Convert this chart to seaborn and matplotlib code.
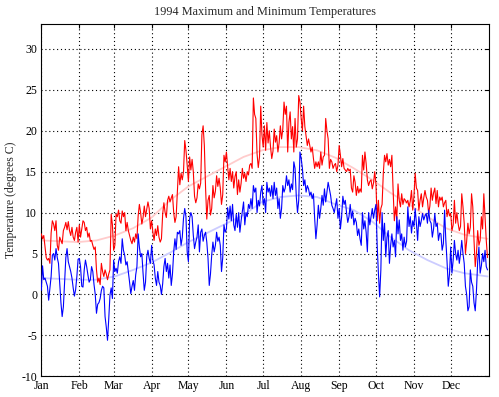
import numpy as np
import pandas as pd
import matplotlib
matplotlib.use('Agg')
import matplotlib.pyplot as plt
import seaborn as sns

# daily maximum temperatures, 1994, read month by month
max_jan = [7.4, 6.8, 7.2, 5.8, 4.5, 4.2, 4.4, 3.8, 7.5, 9.0, 8.6, 7.8, 9.0, 6.0, 5.4, 7.0, 6.6, 6.2, 7.8, 8.2,
           8.8, 7.9, 8.9, 7.8, 7.2, 8.2, 7.0, 6.6, 7.6, 8.2, 6.4]
max_feb = [8.5, 7.0, 8.0, 9.0, 8.8, 7.8, 8.2, 7.0, 7.5, 6.5, 6.6, 6.0, 5.5, 5.8, 3.0, 1.5, 2.0, 1.2, 3.8, 2.8,
           2.2, 3.0, 2.5, 1.8, 2.5, 3.0, 9.8, 8.5]
max_mar = [5.4, 6.0, 9.8, 9.5, 10.3, 9.0, 8.7, 10.2, 9.5, 10.0, 7.8, 8.8, 7.8, 7.2, 6.6, 6.2, 7.0, 6.4, 7.4, 6.8,
           9.6, 11.0, 10.0, 8.6, 9.4, 10.8, 9.5, 10.4, 11.3, 10.5, 8.0]
max_apr = [9.0, 7.6, 6.6, 8.0, 7.2, 8.4, 7.0, 6.4, 6.8, 9.8, 11.2, 10.0, 9.4, 11.5, 12.0, 11.3, 11.8, 12.2, 10.0, 8.8,
           9.5, 12.5, 15.6, 13.4, 14.8, 14.0, 15.0, 18.8, 17.6, 15.8]
max_may = [13.8, 16.8, 15.2, 16.5, 15.0, 12.0, 11.2, 11.8, 13.5, 12.9, 13.6, 19.5, 20.6, 18.2, 13.0, 9.2, 11.5, 12.1,
           9.7, 10.5, 13.3, 11.8, 12.6, 14.5, 13.2, 14.2, 13.0, 11.0, 12.2, 17.0, 16.2]
max_jun = [17.4, 15.6, 14.0, 15.4, 13.8, 15.0, 13.0, 14.4, 15.0, 12.2, 14.0, 12.5, 13.6, 15.4, 14.2, 14.8, 13.8, 15.0,
           14.6, 15.8, 16.0, 15.4, 24.0, 22.0, 21.5, 17.2, 15.5, 16.8, 23.0, 19.5]
max_jul = [18.0, 20.6, 17.6, 21.0, 18.5, 20.0, 18.0, 16.6, 17.5, 20.2, 18.6, 19.4, 17.4, 18.5, 20.6, 19.0, 20.2, 23.5,
           22.0, 23.0, 17.4, 21.0, 22.3, 19.0, 20.5, 17.4, 21.5, 18.0, 19.0, 24.3, 23.5]
max_aug = [21.5, 20.0, 23.0, 20.5, 19.4, 18.2, 19.0, 18.2, 17.4, 18.0, 16.6, 15.4, 16.2, 15.6, 16.2, 15.4, 17.4, 15.8,
           16.8, 17.0, 21.5, 20.0, 19.0, 15.4, 16.5, 16.2, 15.4, 15.8, 16.0, 15.0, 15.8]
max_sep = [18.2, 17.0, 15.6, 16.6, 15.4, 15.2, 15.0, 15.4, 15.1, 15.3, 13.0, 12.5, 14.5, 13.7, 12.1, 13.2, 12.4, 12.9,
           12.5, 17.0, 15.2, 17.4, 16.0, 14.0, 13.3, 13.8, 14.0, 12.9, 13.6, 15.0]
max_oct = [13.5, 9.0, 11.5, 8.7, 10.5, 11.0, 14.8, 17.0, 16.2, 17.2, 15.8, 16.5, 15.6, 17.0, 12.7, 9.0, 10.7, 9.2,
           13.5, 11.5, 10.7, 12.3, 11.0, 11.7, 11.5, 11.2, 11.5, 10.7, 11.4, 12.7, 10.3]
max_nov = [12.0, 14.8, 13.0, 12.7, 10.3, 11.5, 12.3, 10.7, 11.8, 12.7, 11.9, 11.5, 9.9, 10.8, 13.0, 11.5, 12.4, 13.0,
           11.1, 12.7, 10.7, 11.9, 11.5, 11.9, 10.7, 11.2, 11.5, 9.5, 10.4, 9.6]
max_dec = [9.9, 7.8, 8.5, 11.5, 8.7, 10.0, 8.7, 7.8, 8.3, 12.3, 10.7, 8.7, 5.0, 6.5, 8.7, 7.4, 8.2, 12.3, 10.7, 6.6,
           3.4, 5.0, 7.8, 6.0, 6.6, 9.5, 8.0, 12.3, 9.5, 6.6, 4.5]

# daily minimum temperatures
min_jan = [0.5, 3.5, 1.8, 2.0, 1.5, 1.0, -0.7, 0.8, 2.2, 4.8, 5.0, 4.2, 5.6, 4.5, 3.8, 1.5, -1.0, -2.7, -1.5, 1.5,
           4.5, 5.6, 4.0, 3.4, 2.8, 2.0, 0.8, -0.2, 0.6, 2.2, 4.3]
min_feb = [4.4, 3.4, 1.0, 0.9, 3.0, 4.2, 3.4, 2.4, 1.5, 1.8, 3.4, 2.8, 1.2, 0.0, -2.3, -1.2, -1.0, -0.5, 0.5, 1.0,
           0.8, -2.7, -4.0, -5.6, -3.0, -0.1, 0.8, -0.5]
min_mar = [4.2, 2.8, 3.2, 2.6, 4.0, 4.6, 3.8, 6.8, 5.4, 4.8, 3.6, 4.0, 2.8, 1.5, 0.1, 1.0, 1.7, 0.5, 2.4, 3.4,
           7.4, 5.8, 4.6, 5.0, 2.6, 0.5, 1.5, 4.6, 5.4, 4.4, 3.8]
min_apr = [6.0, 4.2, 3.6, 2.0, 1.1, 2.8, 1.5, 1.1, 0.0, 1.3, 3.4, 4.4, 2.8, 3.8, 2.0, 3.6, 1.1, 2.5, 5.2, 6.8,
           5.5, 7.6, 7.4, 7.8, 6.0, 7.0, 9.3, 10.5, 9.5, 5.2]
min_may = [4.0, 9.3, 10.0, 9.5, 7.2, 5.6, 6.4, 7.0, 8.5, 5.2, 7.6, 8.0, 6.5, 7.2, 7.6, 6.4, 4.4, 1.1, 2.5, 4.8,
           6.4, 5.2, 6.0, 7.6, 6.5, 7.0, 6.0, 2.8, 4.5, 8.5, 7.6]
min_jun = [8.0, 10.6, 9.2, 10.8, 9.0, 11.0, 8.5, 7.8, 9.8, 8.2, 10.0, 7.6, 9.0, 10.2, 11.3, 8.5, 10.0, 9.5, 11.0, 10.5,
           11.7, 10.5, 13.3, 12.5, 13.0, 10.0, 11.5, 10.8, 12.5, 13.3]
min_jul = [11.0, 11.7, 10.0, 13.7, 12.5, 13.0, 12.0, 13.3, 11.7, 13.7, 12.1, 13.0, 10.5, 11.7, 9.3, 10.5, 13.3, 12.5,
           13.0, 14.5, 13.3, 14.0, 12.5, 13.5, 12.8, 16.2, 15.4, 12.0, 10.0, 11.5, 17.4]
min_aug = [16.6, 15.4, 13.3, 14.0, 12.5, 13.3, 12.9, 12.1, 12.5, 11.7, 12.3, 9.3, 6.8, 8.5, 10.9, 9.3, 10.5, 12.1,
           10.9, 12.9, 11.3, 12.5, 13.7, 12.9, 12.1, 10.9, 10.5, 10.0, 10.9, 11.7, 9.3]
min_sep = [10.5, 8.0, 9.5, 12.0, 11.0, 11.5, 10.0, 8.8, 9.5, 11.0, 9.3, 10.2, 8.5, 9.3, 8.8, 7.2, 8.0, 6.8, 6.0, 10.0,
           8.0, 9.0, 7.6, 5.2, 10.0, 8.5, 9.5, 10.5, 9.3, 10.3]
min_oct = [11.0, 6.0, 2.6, -0.3, 3.0, 10.0, 6.6, 8.7, 4.6, 7.0, 7.8, 3.8, 6.0, 7.4, 5.8, 6.6, 4.6, 9.5, 7.4, 9.1,
           6.6, 7.4, 5.4, 7.0, 5.8, 6.5, 10.7, 8.3, 9.5, 7.5, 9.0]
min_nov = [8.3, 10.5, 8.7, 6.6, 9.5, 8.3, 9.0, 9.9, 9.1, 9.6, 9.9, 8.7, 10.3, 9.0, 8.7, 7.0, 8.0, 9.9, 8.3, 8.7,
           6.6, 7.5, 7.4, 5.4, 6.2, 10.3, 6.6, 4.0, 1.0, 2.5]
min_dec = [5.8, 2.6, 4.2, 6.6, 5.0, 4.2, 5.4, 3.8, 5.0, 6.6, 5.0, 3.8, 1.0, 0.0, -2.0, -1.5, 3.0, 1.5, 1.0, -1.0,
           -2.0, 0.5, 4.0, 5.8, 2.6, 3.5, 5.0, 4.0, 5.4, 3.4, 3.0]

# faint seasonal curves (read at a few days)
fit_days = [0, 15, 30, 45, 60, 75, 90, 105, 120, 135, 150, 165, 180, 195, 210, 225, 240, 255, 270, 285, 300,
            315, 330, 345, 364]
fit_max = [6.6, 6.5, 6.4, 6.6, 7.2, 8.1, 9.4, 11.5, 13.2, 14.4, 15.6, 16.8, 17.6, 18.0, 18.0, 17.6, 16.7, 15.4,
           14.0, 12.4, 11.0, 9.5, 8.1, 7.3, 6.8]
fit_min = [2.0, 1.9, 1.8, 1.8, 2.2, 3.0, 3.9, 5.1, 6.4, 7.5, 8.6, 9.7, 11.3, 11.9, 12.1, 11.9, 11.0, 10.3, 8.9,
           7.0, 5.4, 4.2, 3.2, 2.6, 2.2]

month_starts = [0, 31, 59, 90, 120, 151, 181, 212, 243, 273, 304, 334]
month_labels = ['Jan', 'Feb', 'Mar', 'Apr', 'May', 'Jun', 'Jul', 'Aug', 'Sep', 'Oct', 'Nov', 'Dec']

tmax = (max_jan + max_feb + max_mar + max_apr + max_may + max_jun +
        max_jul + max_aug + max_sep + max_oct + max_nov + max_dec)
tmin = (min_jan + min_feb + min_mar + min_apr + min_may + min_jun +
        min_jul + min_aug + min_sep + min_oct + min_nov + min_dec)

df = pd.DataFrame({'day': np.arange(len(tmax)), 'tmax': tmax, 'tmin': tmin})
fit = pd.DataFrame({'day': fit_days, 'fmax': fit_max, 'fmin': fit_min})

sns.set_style('white')
plt.rcParams['font.family'] = ['Liberation Serif', 'DejaVu Serif']

fig = plt.figure(figsize=(4.99, 3.97), dpi=100)
ax = fig.add_axes([0.0828, 0.0521, 0.8966, 0.8867])

sns.lineplot(data=fit, x='day', y='fmax', color='#ffcccc', lw=1.3, ax=ax, estimator=None, zorder=1)
sns.lineplot(data=fit, x='day', y='fmin', color='#ccccff', lw=1.3, ax=ax, estimator=None, zorder=1)
sns.lineplot(data=df, x='day', y='tmax', color='#ff0000', lw=0.8, ax=ax, estimator=None, zorder=3)
sns.lineplot(data=df, x='day', y='tmin', color='#0000ff', lw=0.8, ax=ax, estimator=None, zorder=3)

ax.set_xlim(0, 365)
ax.set_ylim(-10, 33)
ax.set_xticks(month_starts)
ax.set_xticklabels(month_labels)
ax.set_yticks(np.arange(-10, 31, 5))
ax.set_yticklabels([str(v) for v in range(-10, 31, 5)])
ax.grid(True, color='black', linestyle=(0, (1, 2.5)), linewidth=0.8)
ax.set_axisbelow(True)
ax.tick_params(direction='in', top=True, right=True, length=3, width=0.8,
               labelsize=8.5, colors='black', pad=3)
for s in ax.spines.values():
    s.set_color('black')
    s.set_linewidth(0.8)

ax.set_title('1994 Maximum and Minimum Temperatures', fontsize=8.8, pad=7)
ax.set_xlabel('')
ax.set_ylabel('Temperature (degrees C)', fontsize=8.5, labelpad=3)

fig.savefig('out.png', dpi=100)
